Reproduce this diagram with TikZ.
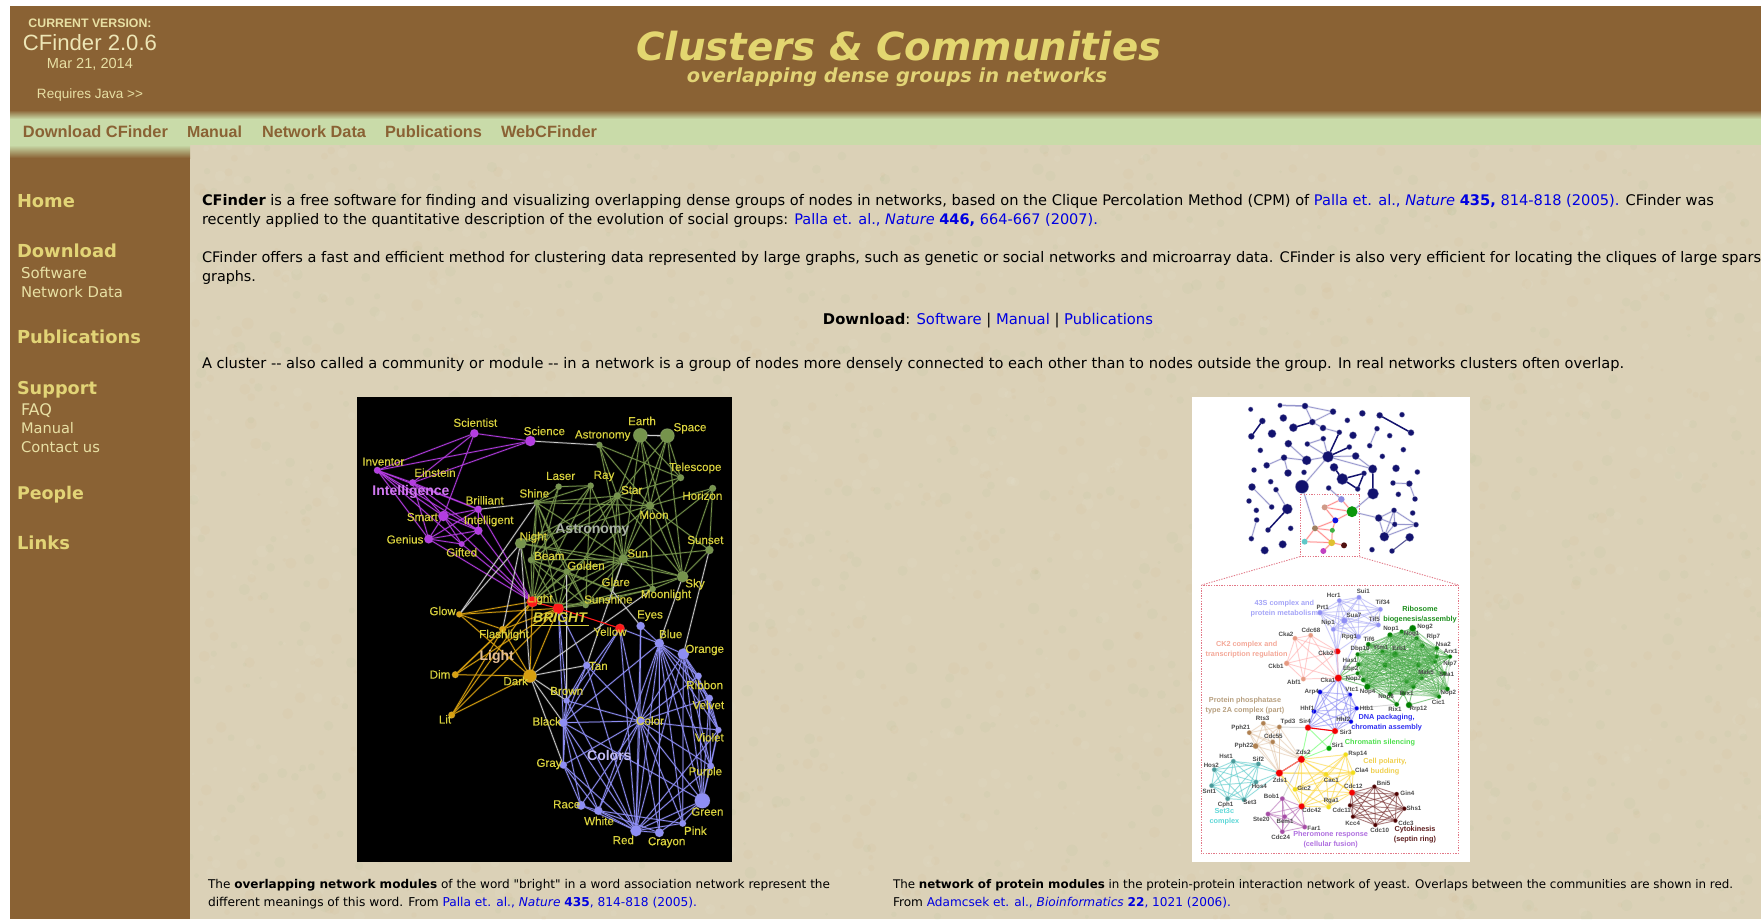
\documentclass[tikz,border=0pt]{standalone}
\usepackage{graphicx}
\usepackage{fontspec}
\setmainfont{DejaVu Sans}
\newfontfamily\ar{Liberation Sans}
\newfontfamily\plainf{DejaVu Sans}
\newfontfamily\arf[FakeBold=0.35]{Liberation Sans}
\definecolor{hbrown}{RGB}{138,98,52}
\definecolor{hgreen}{RGB}{201,219,169}
\definecolor{paper}{RGB}{219,209,183}
\definecolor{hyel}{RGB}{226,212,118}
\definecolor{sub}{RGB}{232,224,164}
\definecolor{lnk}{RGB}{0,0,225}
\definecolor{wyel}{RGB}{218,210,62}
\definecolor{pur}{RGB}{180,60,226}
\definecolor{grn}{RGB}{118,148,76}
\definecolor{org}{RGB}{216,160,16}
\definecolor{vio}{RGB}{142,142,244}
\definecolor{gry}{RGB}{205,205,205}
\definecolor{navy}{RGB}{18,18,110}
\definecolor{lnavy}{RGB}{150,150,205}
\definecolor{dpink}{RGB}{226,120,135}
\definecolor{ribo}{RGB}{70,170,70}
\definecolor{teal1}{RGB}{96,205,205}
\definecolor{bast}{RGB}{170,178,165}
\definecolor{blig}{RGB}{228,190,150}
\definecolor{bcol}{RGB}{196,190,244}
\definecolor{bint}{RGB}{208,120,240}
\newcommand\fitw[2]{\resizebox{#1pt}{!}{#2}}
\newcommand\hub[3]{\foreach \tgt in {#3}{\draw[#1] (#2) -- (\tgt);}}
\newcommand\clique[2]{\foreach \pa [count=\ci] in {#2}{\foreach \qa [count=\cj] in {#2}{\ifnum\cj>\ci \draw[#1] (\pa) -- (\qa);\fi}}}
\newcommand\lk[1]{\textcolor{lnk}{#1}}
\tikzset{
 txt/.style={inner sep=0pt,outer sep=0pt,anchor=base west,text=black},
 ctr/.style={inner sep=0pt,outer sep=0pt,anchor=base},
 dotn/.style 2 args={circle,fill=#1,draw=#1!75!white,draw opacity=.45,line width=.8pt,minimum size=#2 pt,inner sep=0pt,outer sep=0pt},
 ed/.style={draw=#1,line width=.75pt,preaction={draw=#1,draw opacity=.22,line width=2pt}},
 edl/.style={draw=#1,line width=.5pt,draw opacity=.75,preaction={draw=#1,draw opacity=.18,line width=1.4pt}},
 edh/.style={draw=#1,line width=1.5pt},
 wlab/.style={inner sep=0pt,outer sep=0pt,text=wyel,font=\arf\fontsize{11.6}{12}\selectfont},
 biglab/.style={inner sep=0pt,outer sep=0pt,font=\ar\bfseries\fontsize{14}{15}\selectfont},
 glab/.style={inner sep=0pt,outer sep=0pt,text=black!70,font=\ar\bfseries\fontsize{6.2}{7}\selectfont},
 clab/.style={inner sep=0pt,outer sep=0pt,align=center,font=\ar\bfseries\fontsize{7.3}{10}\selectfont},
 pinkd/.style={draw=dpink,line width=.9pt,dash pattern=on 1.3pt off 1.3pt},
}
\begin{document}
\begin{tikzpicture}[x=1pt,y=-1pt]
\useasboundingbox (0,0) rectangle (1761,919);
\clip (0,0) rectangle (1761,919);
\fill[white] (0,0) rectangle (1761,919);
% page paper
\fill[paper] (190,145) rectangle (1761,919);
\begin{scope}
\clip (190,145) rectangle (1761,919);
\pgfmathsetseed{42}
\foreach \k in {1,...,2400}{
 \pgfmathsetmacro\rx{190+rnd*1571}
 \pgfmathsetmacro\ry{145+rnd*774}
 \pgfmathsetmacro\rr{1.5+rnd*4.5}
 \pgfmathtruncatemacro\tone{mod(\k,3)}
 \ifnum\tone=0 \fill[white,opacity=.05] (\rx,\ry) circle (\rr pt);\fi
 \ifnum\tone=1 \fill[brown,opacity=.035] (\rx,\ry) circle (\rr pt);\fi
 \ifnum\tone=2 \fill[black!50!green,opacity=.02] (\rx,\ry) circle (\rr pt);\fi
}
\end{scope}
% header bands
\fill[hbrown] (10,6) rectangle (1761,110);
\shade[top color=hbrown,bottom color=hgreen] (10,110) rectangle (1761,119);
\fill[hgreen] (10,119) rectangle (1761,145);
\shade[top color=hgreen,bottom color=hbrown] (10,145) rectangle (190,158);
\fill[hbrown] (10,158) rectangle (190,919);
% version box
\node[ctr,text=sub,font=\ar\bfseries] (curv) at (90,27) {\fitw{123}{CURRENT VERSION:}};
\node[ctr,text=sub!80!white,font=\ar] (vers) at (90,50) {\fitw{134}{CFinder 2.0.6}};
\node[ctr,text=sub,font=\ar] (vdate) at (90,68.5) {\fitw{86}{Mar 21, 2014}};
\node[ctr,text=sub,font=\ar] (vjava) at (90,98.5) {\fitw{106}{Requires Java >{}>}};
% title
\node[ctr,text=hyel!95!yellow,font=\bfseries\itshape] (title) at (899,60) {\fitw{525}{Clusters \& Communities}};
\node[ctr,text=hyel,font=\bfseries\itshape] (subt) at (897,82) {\fitw{420}{overlapping dense groups in networks}};
% menu
\foreach \nm/\x/\w/\t in {m1/23/145/{Download CFinder},m2/187/55/Manual,m3/262/104/{Network Data},m4/385/97/Publications,m5/501/96/WebCFinder}{
 \node[txt,text=hbrown,font=\ar\bfseries] (\nm) at (\x,137.5) {\fitw{\w}{\t}};
}
% sidebar
\foreach \nm/\y/\w/\t in {s1/207/58/Home,s2/257/100/Download,s3/343.5/124/Publications,s4/394/80/Support,s5/499/67/People,s6/549/53/Links}{
 \node[txt,text=hyel,font=\bfseries] (\nm) at (17,\y) {\fitw{\w}{\t}};
}
\foreach \nm/\y/\w/\t in {t1/278/66/Software,t2/297/102/{Network Data},t3/415/31/FAQ,t4/433/53/Manual,t5/452/79/{Contact us}}{
 \node[txt,text=sub] (\nm) at (21,\y) {\fitw{\w}{\t}};
}
% body text
\node[txt] (b1) at (202,205.5) {\fitw{1512}{\textbf{CFinder} is a free software for finding and visualizing overlapping dense groups of nodes in networks, based on the Clique Percolation Method (CPM) of \lk{Palla et. al., \textit{Nature} \textbf{435,} 814-818 (2005).} CFinder was}};
\node[txt] (b2) at (202,224.5) {\fitw{896}{recently applied to the quantitative description of the evolution of social groups: \lk{Palla et. al., \textit{Nature} \textbf{446,} 664-667 (2007).}}};
\node[txt] (b3) at (202,262) {\fitw{1568}{CFinder offers a fast and efficient method for clustering data represented by large graphs, such as genetic or social networks and microarray data. CFinder is also very efficient for locating the cliques of large sparse}};
\node[txt] (b4) at (202,281) {\fitw{54}{graphs.}};
\node[ctr] (b5) at (988,324) {\fitw{330}{\textbf{Download}: \lk{Software} | \lk{Manual} | \lk{Publications}}};
\node[txt] (b6) at (202,368.5) {\fitw{1422}{A cluster -{}- also called a community or module -{}- in a network is a group of nodes more densely connected to each other than to nodes outside the group. In real networks clusters often overlap.}};
% captions
\node[txt] (c1) at (208,888) {\fitw{622}{The \textbf{overlapping network modules} of the word {\plainf "}bright{\plainf "} in a word association network represent the}};
\node[txt] (c2) at (208,906) {\fitw{489}{different meanings of this word. From \lk{Palla et. al., \textit{Nature} \textbf{435}, 814-818 (2005).}}};
\node[txt] (c3) at (893,888) {\fitw{840}{The \textbf{network of protein modules} in the protein-protein interaction network of yeast. Overlaps between the communities are shown in red.}};
\node[txt] (c4) at (893,906) {\fitw{338}{From \lk{Adamcsek et. al., \textit{Bioinformatics} \textbf{22}, 1021 (2006).}}};
% ===== word network
\fill[black] (357,397) rectangle (732,862);
\begin{scope}[shift={(350pt,-390pt)},x=.33333pt,y=-.33333pt]
\foreach \n/\x/\y/\s in {Scientist/373/130/8,Science/541/153/10,Inventor/82/241/6.5,Einstein/188/278/6.5,Smart/280/378/10,Brilliant/385/358/7,Intelligent/385/422/8,Genius/236/447/8.5,Gifted/335/462/5.5}
 \node[dotn={pur}{\s}] (\n) at (\x,\y) {};
\foreach \n/\x/\y/\s in {Astronomy/748/165/6,Earth/871/136/14,Space/952/137/14,Telescope/992/263/6.5,Horizon/1088/295/6.5,Laser/626/290/6,Ray/722/287/6,Shine/560/338/6,Star/802/318/7,Moon/900/347/8,Night/512/460/11,Beam/543/510/6,Golden/650/545/6,Sun/820/507/9,Sky/998/560/11,Sunset/1078/480/8,Glare/785/600/4,Moonlight/908/597/6,Sunshine/707/645/6}
 \node[dotn={grn}{\s}] (\n) at (\x,\y) {};
\foreach \n/\x/\y/\s in {Glow/328/673/6,Flashlight/458/718/6.5,Dim/316/854/6.5,Dark/540/858/13,Lit/305/975/6.5}
 \node[dotn={org}{\s}] (\n) at (\x,\y) {};
\foreach \n/\x/\y/\s in {Eyes/872/708/8,Blue/928/760/9,Orange/1000/792/11,Tan/710/826/7,Ribbon/1045/858/6.5,Velvet/1078/925/7,Violet/1105/1020/6,Purple/1082/1128/6.5,Green/1057/1232/15,Pink/998/1300/6.5,Crayon/928/1328/8.5,Red/858/1322/11,White/745/1262/8,Race/693/1246/8.5,Gray/640/1125/7,Black/640/998/8.5,Brown/650/932/6,Color/870/993/9}
 \node[dotn={vio}{\s}] (\n) at (\x,\y) {};
\foreach \n/\x/\y/\s in {Light/547/635/11,Bright/625/655/11,Yellow/810/715/9}
 \node[dotn={red!90!white}{\s}] (\n) at (\x,\y) {};
% purple
\hub{ed=pur}{Scientist}{Science,Inventor,Einstein,Smart}
\hub{ed=pur}{Science}{Inventor,Einstein}
\hub{ed=pur}{Inventor}{Einstein,Smart,Genius,Brilliant,Intelligent,Gifted}
\hub{ed=pur}{Einstein}{Smart,Genius,Brilliant,Intelligent}
\hub{ed=pur}{Smart}{Brilliant,Intelligent,Genius,Gifted,Light}
\hub{ed=pur}{Genius}{Intelligent,Gifted,Brilliant,Light}
\hub{ed=pur}{Brilliant}{Intelligent,Light}
\hub{ed=pur}{Intelligent}{Gifted,Light}
\hub{ed=pur}{Gifted}{Light}
% green
\hub{ed=grn}{Astronomy}{Star,Moon,Telescope,Sun}
\hub{ed=grn}{Earth}{Star,Moon,Sun,Telescope,Sky}
\hub{ed=grn}{Space}{Star,Moon,Telescope,Sky,Sun}
\hub{ed=grn}{Telescope}{Star,Moon}
\hub{ed=grn}{Horizon}{Sky,Sunset,Sun,Moon}
\hub{ed=grn}{Laser}{Ray,Shine,Beam,Light}
\hub{ed=grn}{Ray}{Shine,Beam,Sun,Light,Sunshine}
\hub{ed=grn}{Shine}{Star,Moon,Sun,Beam,Light,Golden,Bright,Sunshine}
\hub{ed=grn}{Star}{Moon,Sun,Sky,Light,Bright,Beam,Glare}
\hub{ed=grn}{Moon}{Sun,Sky,Sunset,Moonlight,Light}
\hub{ed=grn}{Night}{Light,Star,Moon,Sun,Sky}
\hub{ed=grn}{Beam}{Sun,Light,Bright,Golden,Sunshine,Glare}
\hub{ed=grn}{Golden}{Sun,Light,Bright,Sunshine,Glare}
\hub{ed=grn}{Sun}{Sky,Sunset,Moonlight,Glare,Sunshine,Light,Bright}
\hub{ed=grn}{Sky}{Sunset,Moonlight,Bright}
\hub{ed=grn}{Moonlight}{Sunshine,Bright}
\hub{ed=grn}{Sunshine}{Light,Bright}
% orange
\hub{ed=org}{Glow}{Light,Bright,Flashlight,Dark}
\hub{ed=org}{Flashlight}{Light,Bright,Dark,Dim,Lit}
\hub{ed=org}{Dim}{Light,Bright,Dark}
\hub{ed=org}{Dark}{Light,Bright,Lit}
\hub{ed=org}{Lit}{Light,Bright}
% violet
\hub{ed=vio}{Color}{Eyes,Blue,Orange,Yellow,Tan,Ribbon,Velvet,Violet,Purple,Green,Pink,Crayon,Red,White,Race,Gray,Black,Brown}
\hub{ed=vio}{Red}{Blue,Yellow,Black,Brown,Gray,Race,White,Crayon,Pink,Green,Purple,Orange,Tan,Eyes,Violet}
\hub{ed=vio}{Blue}{Eyes,Orange,Ribbon,Velvet,Violet,Purple,Green,Pink,Crayon,Yellow,Black,White}
\hub{ed=vio}{Orange}{Ribbon,Velvet,Violet,Purple,Green,Pink}
\hub{ed=vio}{Green}{Pink,Crayon,Purple,Violet,Velvet,Ribbon}
\hub{ed=vio}{Black}{Brown,Gray,Race,White,Yellow,Tan,Green}
\hub{ed=vio}{Brown}{Tan,Yellow,Gray,Bright}
\hub{ed=vio}{Bright}{Tan,Black}
\hub{ed=vio}{White}{Crayon,Gray,Race,Pink}
\hub{ed=vio}{Purple}{Violet,Velvet}
\hub{ed=vio}{Violet}{Velvet,Ribbon}
\hub{ed=vio}{Gray}{Race}
% white
\hub{ed=gry}{Science}{Astronomy}
\hub{ed=gry}{Brilliant}{Shine}
\hub{ed=gry}{Shine}{Glow}
\hub{ed=gry}{Night}{Flashlight,Dark,Glow}
\hub{ed=gry}{Dark}{Tan,Moonlight,Black,Gray,Brown}
\hub{ed=gry}{Golden}{Brown}
\hub{ed=gry}{Sun}{Tan}
\hub{ed=gry}{Sky}{Blue}
\hub{ed=gry}{Sunset}{Orange}
\hub{ed=gry}{Glare}{Eyes}
\draw[draw=gry,line width=1.4pt] (Earth) -- (Space);
\draw[draw=red!90!white,line width=1.1pt] (Light) -- (Bright);
\draw[draw=red!90!white,line width=1.1pt] (Bright) -- (Yellow);
% labels
\foreach \x/\y/\t [count=\ii] in {376/98/Scientist,583/123/Science,758/137/Astronomy,876/93/Earth,1020/115/Space,100/215/Inventor,255/248/Einstein,1036/234/Telescope,632/258/Laser,762/258/Ray,845/300/Star,1057/317/Horizon,404/331/Brilliant,553/310/Shine,912/375/Moon,416/393/Intelligent,217/381/Smart,165/448/Genius,550/442/Night,1066/450/Sunset,335/487/Gifted,598/498/Beam,863/490/Sun,708/527/Golden,1035/583/Sky,797/576/Glare,948/615/Moonlight,775/628/Sunshine,570/628/Light,278/663/Glow,900/677/Eyes,780/725/Yellow,962/732/Blue,1064/780/Orange,462/735/Flashlight,745/828/Tan,270/853/Dim,497/873/Dark,1064/885/Ribbon,650/903/Brown,1075/945/Velvet,590/994/Black,900/992/Color,285/988/Lit,1078/1042/Violet,597/1122/Gray,1066/1147/Purple,650/1243/Race,1072/1265/Green,747/1293/White,1036/1322/Pink,820/1350/Red,950/1357/Crayon}
 \node[wlab] (wl\ii) at (\x,\y) {\t};
\node[biglab,text=bint] (bigint) at (183,305) {Intelligence};
\node[biglab,text=bast] (bigast) at (727,420) {Astronomy};
\node[biglab,text=blig] (biglig) at (440,800) {Light};
\node[biglab,text=bcol] (bigcol) at (778,1095) {Colors};
\node[wlab,font=\ar\itshape\bfseries\fontsize{14}{15}\selectfont] (brt) at (630,682) {BRIGHT};
\draw[draw=wyel,line width=.6pt] ([xshift=-2pt,yshift=-3pt]brt.south west) -- ([xshift=2pt,yshift=-3pt]brt.south east);
\end{scope}
% ===== protein network
\fill[white] (1192,397) rectangle (1470,862);
\begin{scope}[shift={(1185pt,-390pt)},x=.33333pt,y=-.33333pt]
\foreach \n/\x/\y/\s in {n1/197/58/4.5,n2/285/46/4.5,n3/360/48/6,n4/444/65/6,n5/532/70/6,n6/584/76/6,n7/651/74/5,n8/232/93/6,n9/295/84/7,n10/382/96/6,n11/487/91/5,n12/325/113/8,n13/414/114/6,n14/576/116/5,n15/678/128/6,n16/199/139/6,n17/261/131/8,n18/463/127/5,n19/504/136/7,n20/614/137/5,n21/415/146/5,n22/310/161/7,n23/367/162/5,n24/554/167/5,n25/493/171/5,n26/226/181/5,n27/655/179/5,n28/429/200/11,n29/297/203/6,n30/512/198/7,n31/592/199/5,n32/365/211/9,n33/245/226/6,n34/447/232/8,n35/563/237/8.5,n36/633/235/7,n37/207/240/5,n38/309/249/7,n39/357/247/5,n40/537/250/5,n41/697/246/5,n42/472/267/11,n43/257/275/5,n44/624/279/5,n45/673/281/6,n46/351/290/13,n47/201/291/7,n48/273/299/5,n49/431/294/5,n50/518/297/5,n51/564/311/11,n52/640/313/5,n53/690/327/5,n54/192/333/5,n55/260/351/5,n56/214/361/5,n57/307/357/10,n58/581/384/7,n59/627/361/5,n60/683/369/5,n61/215/390/5,n62/629/403/5,n63/693/404/5,n64/249/420/5,n65/317/415/5,n66/598/440/9,n67/674/442/8,n68/199/446/5,n69/293/463/7.5,n70/239/481/7.5,n71/561/479/5,n72/621/483/5}
 \node[dotn={navy}{\s}] (\n) at (\x,\y) {};
\foreach \n/\x/\y/\s/\c in {p1/469/328/6.5/{rgb,255:red,138;green,138;blue,224},p2/419/352/6/{rgb,255:red,208;green,154;blue,136},p3/501/365/11/{rgb,255:red,10;green,150;blue,10},p4/451/391/6/{rgb,255:red,16;green,16;blue,224},p5/390/415/6/{rgb,255:red,160;green,128;blue,96},p6/442/421/5/{rgb,255:red,64;green,176;blue,64},p7/359/455/6/{rgb,255:red,96;green,200;blue,200},p8/440/458/7/{rgb,255:red,224;green,192;blue,48},p9/477/466/6/{rgb,255:red,80;green,16;blue,16},p10/415/483/6/{rgb,255:red,192;green,64;blue,192}}
 \node[circle,fill={\c},minimum size=\s pt,inner sep=0pt,outer sep=0pt] (\n) at (\x,\y) {};
\hub{edh=navy}{n8}{n16}
\hub{edh=navy}{n6}{n15}
\hub{edh=navy}{n12}{n10}
\hub{edh=navy}{n28}{n18,n25}
\hub{edh=navy}{n35}{n51}
\hub{edh=navy}{n34}{n42}
\hub{edh=navy}{n42}{n40,n50}
\hub{edh=navy}{n40}{n50}
\hub{edh=navy}{n57}{n64}
\hub{edh=lnavy}{n2}{n3}
\hub{ed=lnavy}{n3}{n4,n10}
\hub{ed=lnavy}{n4}{n10}
\hub{ed=lnavy}{n10}{n13}
\hub{ed=lnavy}{n13}{n18}
\hub{ed=lnavy}{n14}{n24}
\hub{ed=lnavy}{n28}{n21,n23,n30,n32,n46,n35}
\hub{ed=lnavy}{n21}{n23}
\hub{ed=lnavy}{n22}{n32}
\hub{ed=lnavy}{n29}{n32,n33,n38}
\hub{ed=lnavy}{n30}{n35}
\hub{ed=lnavy}{n44}{n45}
\hub{ed=lnavy}{n45}{n53}
\hub{ed=lnavy}{n47}{n55}
\hub{ed=lnavy}{n48}{n57}
\hub{ed=lnavy}{n61}{n68}
\hub{ed=lnavy}{n46}{p5}
\hub{ed=lnavy}{n49}{p1}
\hub{ed=lnavy}{n51}{p3}
\hub{ed=lnavy}{p3}{n58}
\hub{ed=lnavy}{n58}{n59,n62,n66}
\hub{ed=lnavy}{n59}{n66,n62,n63}
\hub{ed=lnavy}{n62}{n63,n66}
\hub{ed=lnavy}{n66}{n63}
\draw[draw=navy!70!white,line width=1.1pt] (n67) -- (n72);
\hub{ed=red!45!white}{p2}{p1,p3,p4}
\hub{ed=red!45!white}{p1}{p3}
\hub{ed=red!45!white}{p3}{p4}
\hub{ed=red!45!white}{p4}{p6,p5}
\hub{ed=red!45!white}{p5}{p6,p7,p8}
\hub{ed=red!45!white}{p7}{p8}
\hub{ed=red!45!white}{p6}{p8}
\hub{ed=red!45!white}{p8}{p9,p10}
\coordinate (zm1) at (345,312);
\coordinate (zm2) at (523,500);
\coordinate (zm3) at (345,500);
\coordinate (fa) at (50,585);
\coordinate (fb) at (820,585);
\draw[pinkd] (zm1) rectangle (zm2);
\draw[pinkd] (zm3) -- (fa);
\draw[pinkd] (zm2) -- (fb);
\end{scope}
\begin{scope}[shift={(1190pt,-580pt)},x=.33333pt,y=-.33333pt]
\coordinate (bx1) at (33,15);
\coordinate (bx2) at (805,820);
\draw[pinkd] (bx1) rectangle (bx2);
\foreach \n/\x/\y/\s in {Hcr1/448/62/4.5,Sui1/507/52/4.5,Tif34/571/88/4.5,Prt1/390/98/5,Sua7/463/122/6,Tif5/565/135/4.5,Nip1/430/148/4.5,Rpg1/505/170/5}
 \node[dotn={vio}{\s}] (\n) at (\x,\y) {};
\foreach \n/\x/\y/\s in {Cka2/315/175/4.5,Cdc68/362/166/4.5,Ckb1/290/250/5,Abf1/340/297/4.5}
 \node[dotn={red!35!brown!60!white}{\s}] (\n) at (\x,\y) {};
\foreach \n/\x/\y/\s in {Ckb2/442/214/6,Cka1/445/294/7,Sirf/354/443/6,Sirt/435/453/6,Zds2/334/538/7,Zds1/268/579/7,Cdc42/335/679/6,Cdc12/486/638/6}
 \node[dotn={red!95!black}{\s}] (\n) at (\x,\y) {};
\foreach \n/\x/\y/\s in {Ra/600/165/5,Rb/668/145/6.5,Rc/535/193/4.5,Rd/503/223/4,Re/577/215/4,Rf/615/223/6,Rg/697/197/4.5,Rh/740/230/4,Ri/780/230/4,Rj/505/253/4,Rk/585/255/5,Rl/503/280/4,Rm/685/255/4.5,Rn/735/245/4,Ro/763/280/4,Rp/695/295/4,Rq/520/300/4.5,Rr/532/320/6,Rs/650/305/4,Rt/670/320/4.5,Ru/600/342/4.5,Rv/640/340/4.5,Rw/772/327/4.5,Rx/747/350/4,Ry/620/373/4.5,Rz/657/375/6,Raa/635/155/4,Rab/680/175/4,Rac/740/205/4.5}
 \node[dotn={green!50!black}{\s}] (\n) at (\x,\y) {};
\foreach \n/\x/\y/\s in {Arp4/390/336/4.5,Vtc1/480/344/4,Hhf1/372/394/4.5,Htb1/500/385/4,Hhf2/483/425/4}
 \node[dotn={blue!90!black}{\s}] (\n) at (\x,\y) {};
\node[dotn={green!65!black}{5}] (Sir1) at (417,505) {};
\foreach \n/\x/\y/\s in {Rts3/220/430/4.5,Tpd3/268/441/4.5,Pph21/178/458/4.5,Cdc55/248/486/4.5,Pph22/197/498/5.5}
 \node[dotn={brown!75!gray}{\s}] (\n) at (\x,\y) {};
\foreach \n/\x/\y/\s in {Hst1/130/544/4.5,Sif2/205/552/4.5,Hos2/73/569/4.5,Snt1/65/617/4.5,Hos4/198/606/4.5,Cph1/113/656/4.5,Set3/162/659/4.5}
 \node[dotn={teal1!75!black}{\s}] (\n) at (\x,\y) {};
\foreach \n/\x/\y/\s in {Rsp14/467/524/4.5,Cla4/489/578/4.5,Cac1/408/583/4.5,Gic2/315/628/4.5,Rga1/416/681/4.5}
 \node[dotn={yellow!80!brown}{\s}] (\n) at (\x,\y) {};
\foreach \n/\x/\y/\s in {Bni5/553/620/4,Gin4/620/642/4,Shs1/643/686/4,Cdc3/616/722/4,Cdc10/556/735/4,Kcc4/489/710/4,Cdc11/480/676/4}
 \node[dotn={red!30!black}{\s}] (\n) at (\x,\y) {};
\foreach \n/\x/\y/\s in {Bob1/277/656/4.5,Ste20/234/702/4.5,Bem1/284/710/4.5,Far1/344/741/4.5,Cdc24/277/755/4.5}
 \node[dotn={violet!70!white}{\s}] (\n) at (\x,\y) {};
\clique{edl=vio!70!white}{Hcr1,Sui1,Tif34,Prt1,Sua7,Tif5,Nip1,Rpg1}
\hub{edl=vio!70!white}{Ckb2}{Hcr1,Prt1,Nip1,Rpg1,Sua7}
\hub{edl=vio!70!white}{Cka1}{Nip1,Rpg1,Ckb2}
\clique{edl=red!30!white}{Cka2,Cdc68,Ckb1,Abf1,Ckb2,Cka1}
\clique{draw=ribo,draw opacity=.5,line width=.5pt}{Ra,Rb,Rc,Rd,Re,Rf,Rg,Rh,Ri,Rj,Rk,Rl,Rm,Rn,Ro,Rp,Rq,Rr,Rs,Rt,Ru,Rv,Rw,Rx,Raa,Rab,Rac}
\hub{edl=ribo}{Cka1}{Rd,Rj,Rl,Rq,Rr}
\hub{edl=ribo}{Ry}{Ru,Rv,Rr,Rq}
\hub{edl=ribo}{Rz}{Rv,Rt,Rx}
\clique{edl=vio}{Arp4,Vtc1,Hhf1,Htb1,Hhf2,Sirf,Sirt,Cka1}
\hub{edl=green!60!white}{Sirf}{Zds2,Sir1}
\hub{edl=green!60!white}{Sirt}{Zds2,Sir1}
\hub{edl=green!60!white}{Sir1}{Zds2}
\draw[draw=red,line width=1.1pt] (Sirf) -- (Sirt);
\draw[draw=red,line width=1.1pt] (Zds2) -- (Zds1);
\clique{edl=brown!40!white}{Rts3,Tpd3,Pph21,Cdc55,Pph22,Zds1,Zds2}
\clique{edl=teal1}{Hst1,Sif2,Hos2,Snt1,Hos4,Cph1,Set3}
\hub{edl=teal1}{Zds1}{Sif2,Hos4,Hst1,Set3}
\clique{edl=yellow!65!orange!75!white}{Zds2,Rsp14,Cla4,Cac1,Gic2,Rga1,Cdc42,Cdc12}
\hub{edl=yellow!65!orange!75!white}{Zds1}{Cla4,Cac1,Gic2,Cdc42}
\clique{edl=red!35!black!80!white}{Cdc12,Bni5,Gin4,Shs1,Cdc3,Cdc10,Kcc4,Cdc11}
\clique{edl=violet!55!white}{Bob1,Ste20,Bem1,Far1,Cdc24,Cdc42}
\hub{edl=gray!50!white}{Bob1}{Zds2}
\hub{edl=gray!50!white}{Sirf}{Tpd3}
\hub{edl=gray!50!white}{Htb1}{Ry}
\foreach \x/\y/\t [count=\ii] in {431/46/Hcr1,520/34/Sui1,578/66/Tif34,398/82/Prt1,492/106/Sua7,553/118/Tif5,414/130/Nip1,478/172/Rpg1,288/162/Cka2,363/152/Cdc68,258/260/Ckb1,312/307/Abf1,408/220/Ckb2,414/302/Cka1,365/336/Arp4,486/328/Vtc1,352/386/Hhf1,530/384/Htb1,460/418/Hhf2,345/424/Sir4,467/457/Sir3,443/497/Sir1,340/518/Zds2,270/601/Zds1,218/415/Rts3,294/427/Tpd3,152/445/Pph21,250/470/Cdc55,162/498/Pph22,108/530/Hst1,205/537/Sif2,64/556/Hos2,58/634/Snt1,208/618/Hos4,107/676/Cph1,180/668/Set3,503/521/Rsp14,515/571/Cla4,424/600/Cac1,342/624/Gic2,424/662/Rga1,365/691/Cdc42,490/620/Cdc12,581/611/Bni5,652/640/Gin4,672/686/Shs1,648/731/Cdc3,569/752/Cdc10,488/730/Kcc4,455/691/Cdc11,245/648/Bob1,214/719/Ste20,285/724/Bem1,372/746/Far1,272/773/Cdc24,603/148/Nop1,705/140/Nog2,665/163/Nog1,537/177/Tif6,510/208/Dbp10,572/203/Ytm1,628/205/Erb1,480/240/Has1,482/268/Ebp2,490/296/Nop7,533/337/Nop4,588/351/Nop8,782/214/Arx1,760/192/Nsa2,730/172/Rlp7,780/252/Nip7,770/284/Sda1,708/278/Mak5,745/366/Cic1,775/338/Nop2,615/388/Rix1,685/388/Rrp12,650/340/Brx1}
 \node[glab] (gl\ii) at (\x,\y) {\t};
\node[clab,text={rgb,255:red,165;green,165;blue,248}] (cl1) at (283,87) {43S complex and\\protein metabolism};
\node[clab,text={rgb,255:red,32;green,144;blue,32}] (cl2) at (690,103) {Ribosome\\biogenesis/assembly};
\node[clab,text={rgb,255:red,244;green,168;blue,152}] (cl3) at (170,208) {CK2 complex and\\transcription regulation};
\node[clab,text={rgb,255:red,184;green,160;blue,128}] (cl4) at (165,376) {Protein phosphatase\\type 2A complex (part)};
\node[clab,text={rgb,255:red,48;green,48;blue,240}] (cl5) at (590,427) {DNA packaging,\\chromatin assembly};
\node[clab,text={rgb,255:red,80;green,224;blue,80}] (cl6) at (570,487) {Chromatin silencing};
\node[clab,text={rgb,255:red,240;green,208;blue,80}] (cl7) at (585,560) {Cell polarity,\\budding};
\node[clab,text={rgb,255:red,96;green,216;blue,216}] (cl8) at (103,710) {Set3c\\complex};
\node[clab,text={rgb,255:red,176;green,112;blue,224}] (cl9) at (422,780) {Pheromone response\\(cellular fusion)};
\node[clab,text={rgb,255:red,96;green,32;blue,32}] (cl10) at (675,763) {Cytokinesis\\(septin ring)};
\end{scope}
\end{tikzpicture}
\end{document}
